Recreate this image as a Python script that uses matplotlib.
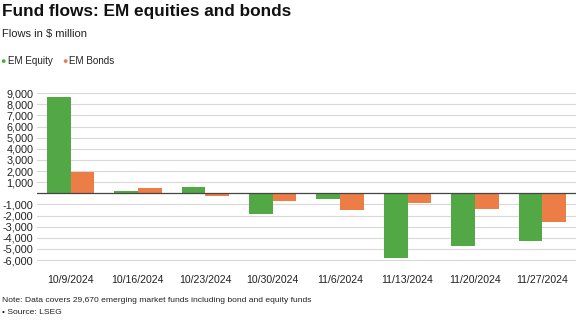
import numpy as np
import matplotlib
matplotlib.use("Agg")
from matplotlib import pyplot as plt
from matplotlib.ticker import FuncFormatter

plt.rcParams['font.family'] = ['Liberation Sans', 'DejaVu Sans']

weeks = ['10/9/2024', '10/16/2024', '10/23/2024', '10/30/2024',
         '11/6/2024', '11/13/2024', '11/20/2024', '11/27/2024']
equity = [8700, 230, 600, -1870, -540, -5830, -4720, -4300]
bonds = [1890, 480, -250, -700, -1530, -850, -1410, -2590]
y_ticks = list(range(-6000, 10000, 1000))

GREEN = '#52a844'
ORANGE = '#ec7d46'

fig = plt.figure(figsize=(5.76, 3.22), dpi=100)
ax = fig.add_axes([0.064, 0.182, 0.936, 0.539])

x = np.arange(len(weeks))
w = 0.352
ax.bar(x - w / 2, equity, width=w, color=GREEN, zorder=3)
ax.bar(x + w / 2, bonds, width=w, color=ORANGE, zorder=3)

ax.set_xlim(-0.5, len(weeks) - 0.5)
ax.set_ylim(-6300, 9300)
ax.set_yticks([t for t in y_ticks if t != 0])
ax.yaxis.set_major_formatter(FuncFormatter(lambda v, p: '{:,.0f}'.format(v)))
ax.set_xticks(x)
ax.set_xticklabels(weeks)
ax.tick_params(axis='both', length=0, colors='#222222')
ax.tick_params(axis='x', labelsize=7.6, pad=8)
ax.tick_params(axis='y', labelsize=7.8, pad=2.5)
ax.grid(axis='y', color='#d8d8d8', linewidth=0.8, zorder=0)
ax.axhline(0, color='#444444', linewidth=0.9, zorder=4)
for s in ax.spines.values():
    s.set_visible(False)

fig.text(0.003, 0.965, 'Fund flows: EM equities and bonds', fontsize=12.4,
         fontweight='bold', va='center', ha='left', color='#111111')
fig.text(0.003, 0.895, 'Flows in $ million', fontsize=8, va='center',
         ha='left', color='#222222')

# legend: small dots followed by labels
fig.text(0.001, 0.81, '\u25cf', color=GREEN, fontsize=6.5, va='center', ha='left')
fig.text(0.014, 0.81, 'EM Equity', fontsize=7.1, va='center', ha='left', color='#222222')
fig.text(0.108, 0.81, '\u25cf', color=ORANGE, fontsize=6.5, va='center', ha='left')
fig.text(0.119, 0.81, 'EM Bonds', fontsize=7.1, va='center', ha='left', color='#222222')

fig.text(0.003, 0.068, 'Note: Data covers 29,670 emerging market funds including bond and equity funds',
         fontsize=6.1, va='center', ha='left', color='#222222')
fig.text(0.003, 0.028, '\u2022 Source: LSEG', fontsize=6.1, va='center', ha='left', color='#222222')

fig.savefig('out.png', dpi=100, facecolor='white')
